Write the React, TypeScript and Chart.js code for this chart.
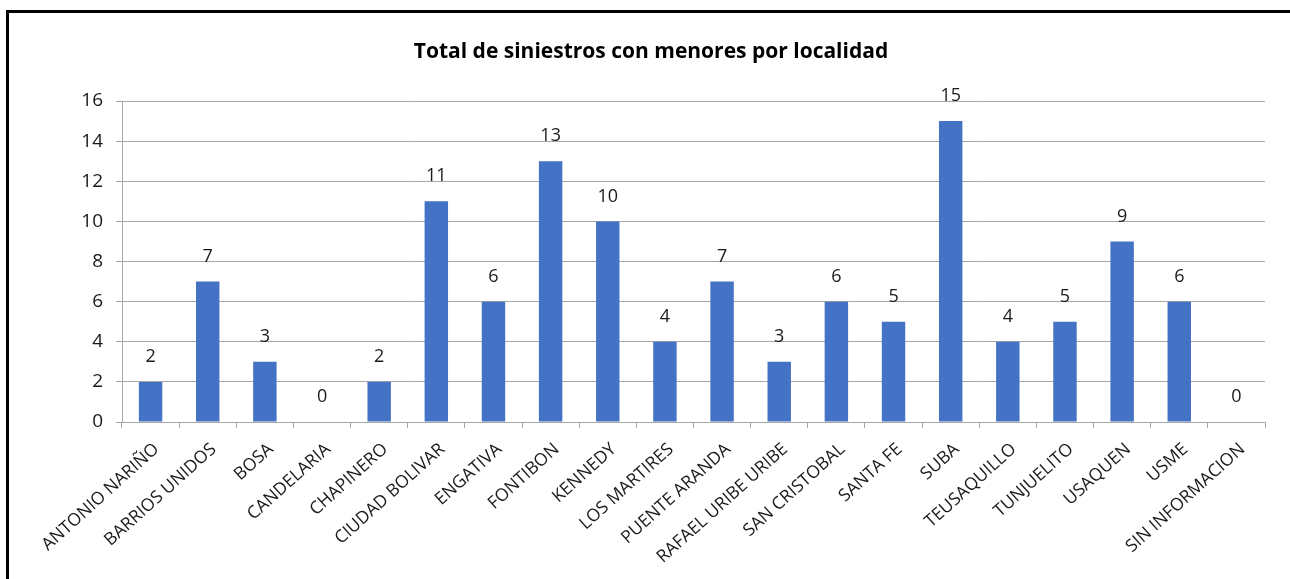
import React, { useEffect, useRef } from "react";
import { Chart, registerables } from "chart.js";

Chart.register(...registerables);

const TITLE = "Total de siniestros con menores por localidad";

const localidades = [
  "ANTONIO NARIÑO",
  "BARRIOS UNIDOS",
  "BOSA",
  "CANDELARIA",
  "CHAPINERO",
  "CIUDAD BOLIVAR",
  "ENGATIVA",
  "FONTIBON",
  "KENNEDY",
  "LOS MARTIRES",
  "PUENTE ARANDA",
  "RAFAEL URIBE URIBE",
  "SAN CRISTOBAL",
  "SANTA FE",
  "SUBA",
  "TEUSAQUILLO",
  "TUNJUELITO",
  "USAQUEN",
  "USME",
  "SIN INFORMACION",
];

const siniestros = [2, 7, 3, 0, 2, 11, 6, 13, 10, 4, 7, 3, 6, 5, 15, 4, 5, 9, 6, 0];

const yTicks = [0, 2, 4, 6, 8, 10, 12, 14, 16];

const FONT = "'Open Sans', 'DejaVu Sans', sans-serif";

const valueLabels = {
  id: "valueLabels",
  afterDatasetsDraw(chart: any) {
    const ctx = chart.ctx;
    const meta = chart.getDatasetMeta(0);
    ctx.save();
    ctx.font = `18px ${FONT}`;
    ctx.fillStyle = "#1a1a1a";
    ctx.textAlign = "center";
    ctx.textBaseline = "middle";
    meta.data.forEach((bar: any, i: number) => {
      const v = chart.data.datasets[0].data[i];
      ctx.fillText(String(v), bar.x, bar.y - 25);
    });
    ctx.restore();
  },
};

const titlePlugin = {
  id: "customTitle",
  afterDraw(chart: any) {
    const ctx = chart.ctx;
    ctx.save();
    ctx.font = `bold 21px ${FONT}`;
    ctx.fillStyle = "#000";
    ctx.textAlign = "center";
    ctx.textBaseline = "middle";
    ctx.fillText(TITLE, 651, 52);
    ctx.restore();
  },
};

export default function App() {
  const ref = useRef<HTMLCanvasElement>(null);

  useEffect(() => {
    if (!ref.current) return;
    const chart = new Chart(ref.current, {
      type: "bar",
      data: {
        labels: localidades,
        datasets: [
          {
            data: siniestros,
            backgroundColor: "#4472C4",
            borderWidth: 0,
            barPercentage: 0.41,
            categoryPercentage: 1,
          },
        ],
      },
      plugins: [valueLabels, titlePlugin],
      options: {
        responsive: false,
        animation: false,
        devicePixelRatio: 1,
        layout: { padding: { top: 101, right: 25, left: 0, bottom: 0 } },
        plugins: {
          legend: { display: false },
          title: { display: false },
          tooltip: { enabled: false },
        },
        scales: {
          x: {
            afterFit(scale: any) {
              scale.height = 579 - 422;
            },
            grid: {
              offset: true,
              drawOnChartArea: false,
              drawTicks: true,
              tickLength: 6,
              color: "#a6a6a6",
              lineWidth: 1,
            },
            border: { color: "#a6a6a6", width: 1 },
            ticks: {
              minRotation: 42,
              maxRotation: 42,
              autoSkip: false,
              padding: 11,
              labelOffset: 6,
              color: "#1a1a1a",
              font: { family: FONT, size: 17.5 },
            },
          },
          y: {
            min: 0,
            max: 16,
            afterFit(scale: any) {
              scale.width = 122;
            },
            afterBuildTicks(scale: any) {
              scale.ticks = yTicks.map((v) => ({ value: v }));
            },
            grid: {
              color: "#a6a6a6",
              lineWidth: 1,
              drawTicks: true,
              tickLength: 6,
            },
            border: { color: "#a6a6a6", width: 1 },
            ticks: {
              padding: 13,
              color: "#1a1a1a",
              font: { family: FONT, size: 19 },
            },
          },
        },
      },
    });
    return () => chart.destroy();
  }, []);

  return (
    <div style={{ position: "fixed", left: 0, top: 0, width: 1290, height: 579, background: "#fff" }}>
      <div
        style={{
          position: "absolute",
          left: 6,
          top: 10,
          width: 1300,
          height: 600,
          borderLeft: "3px solid #000",
          borderTop: "3px solid #000",
        }}
      />
      <canvas
        ref={ref}
        width={1290}
        height={579}
        style={{ position: "absolute", left: 0, top: 0, width: 1290, height: 579 }}
      />
    </div>
  );
}
